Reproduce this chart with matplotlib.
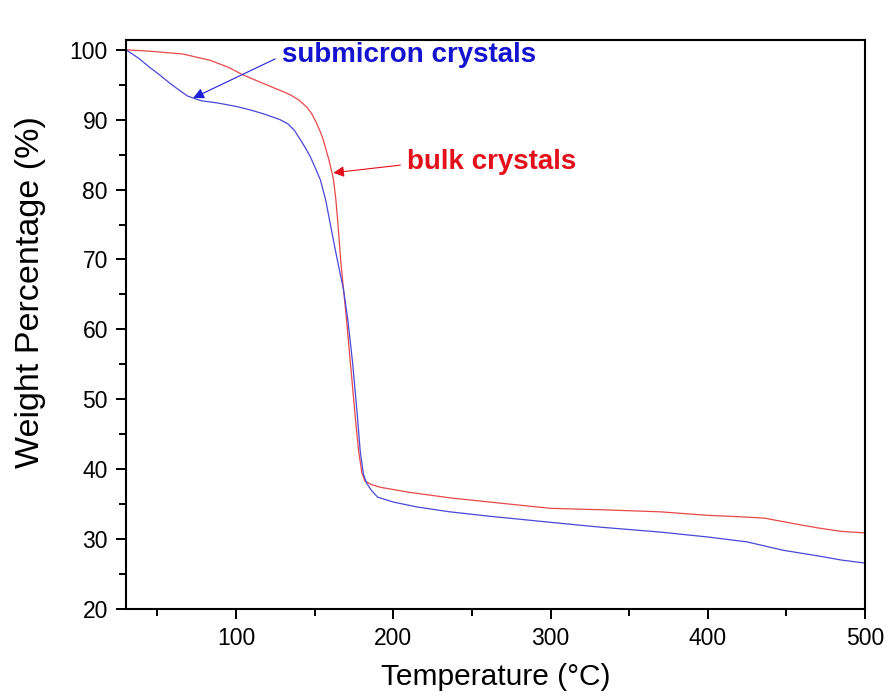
import numpy as np
import matplotlib.pyplot as plt
from matplotlib.ticker import MultipleLocator

plt.rcParams['font.family'] = ['Liberation Sans', 'DejaVu Sans']

# submicron crystals (blue)
sub_temp = [30, 38, 45, 52, 58, 64, 69, 72.7, 78, 88, 100, 109, 118, 128, 133,
            137, 141, 144, 147, 150, 153.6, 157, 160, 163, 166, 168.4, 171,
            174, 177, 179, 181, 183, 186, 190, 200, 215, 236, 260, 300, 332,
            370, 400, 425, 448, 470, 485, 499]
sub_weight = [100, 98.8, 97.5, 96.3, 95.2, 94.2, 93.4, 93.1, 92.7, 92.4, 91.9,
              91.4, 90.8, 90.0, 89.4, 88.5, 87.1, 86.0, 84.8, 83.3, 81.4, 78.5,
              75.0, 71.5, 68.2, 65.6, 61.5, 55.5, 48.0, 42.5, 39.3, 38.0, 37.0,
              36.0, 35.3, 34.6, 33.9, 33.3, 32.4, 31.7, 31.0, 30.3, 29.6, 28.4,
              27.6, 27.0, 26.6]

# bulk crystals (red)
bulk_temp = [30, 45, 66, 83.5, 95, 104.5, 115, 130, 135, 140, 145, 148, 151,
             153.5, 155.5, 157.5, 159, 160.5, 162, 163.5, 165, 166.5, 168.4,
             170, 172, 174, 176, 178, 180, 182, 186, 192, 210, 236, 270, 300,
             332, 370, 400, 420, 436, 455, 470, 485, 499]
bulk_weight = [100, 99.8, 99.4, 98.5, 97.5, 96.4, 95.4, 94.0, 93.5, 92.8, 91.8,
               90.9, 89.6, 88.3, 87.1, 85.5, 84.3, 82.9, 81.4, 78.5, 74.5, 70.0,
               65.6, 62.0, 57.0, 52.0, 47.0, 42.5, 39.5, 38.3, 37.8, 37.4, 36.7,
               35.9, 35.1, 34.4, 34.2, 33.9, 33.4, 33.2, 33.0, 32.2, 31.6, 31.1,
               30.9]

fig = plt.figure(figsize=(8.86, 7), dpi=100)
ax = fig.add_axes([126 / 886, 91 / 700, 739 / 886, 569 / 700])

ax.plot(bulk_temp, bulk_weight, color='#e84848', lw=0.9)
ax.plot(sub_temp, sub_weight, color='#4848d8', lw=0.9)

ax.set_xlim(30, 500)
ax.set_ylim(20, 101.4)
ax.xaxis.set_major_locator(MultipleLocator(100))
ax.xaxis.set_minor_locator(MultipleLocator(50))
ax.yaxis.set_major_locator(MultipleLocator(10))
ax.yaxis.set_minor_locator(MultipleLocator(5))
ax.tick_params(which='both', direction='out', width=1.4, labelsize=16.5,
               top=False, right=False)
ax.tick_params(which='major', length=7, pad=6)
ax.tick_params(which='minor', length=5)
for s in ax.spines.values():
    s.set_linewidth(1.5)

ax.set_xlabel('Temperature (°C)', fontsize=21.5)
ax.xaxis.set_label_coords(0.5, -0.095)
ax.set_ylabel('Weight Percentage (%)', fontsize=24.5)
ax.yaxis.set_label_coords(-0.108, 0.557)

# labels and arrows
ax.text(129.5, 99.3, 'submicron crystals', fontsize=20, fontweight='bold',
        color='#1414d0', va='center')
ax.annotate('', xy=(72.7, 93.1), xytext=(124.9, 98.7),
            arrowprops=dict(arrowstyle='-|>', color='#2020d8', lw=0.8,
                            mutation_scale=16, shrinkA=0, shrinkB=0))
ax.text(209, 83.9, 'bulk crystals', fontsize=20, fontweight='bold',
        color='#e3101c', va='center')
ax.annotate('', xy=(161.8, 82.4), xytext=(204.5, 83.5),
            arrowprops=dict(arrowstyle='-|>', color='#e3101c', lw=0.8,
                            mutation_scale=16, shrinkA=0, shrinkB=0))

fig.savefig('out.png', dpi=100)
